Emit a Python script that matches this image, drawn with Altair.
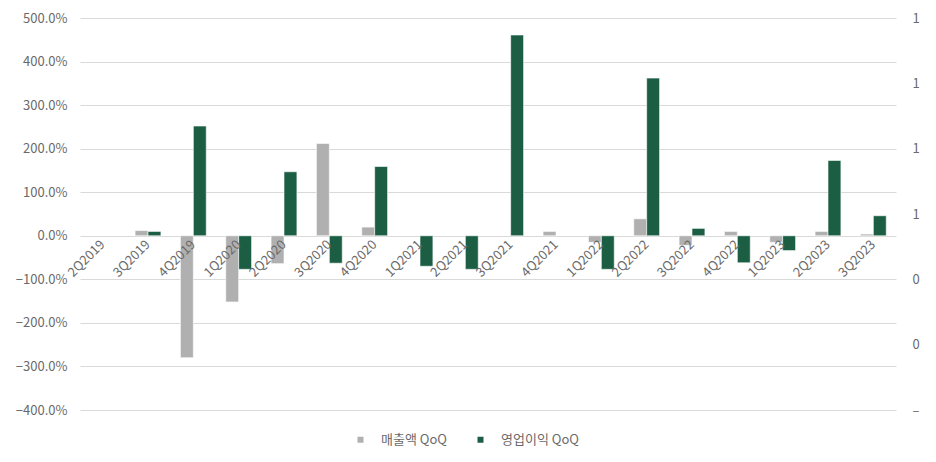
import altair as alt
import pandas as pd

quarters = ["2Q2019", "3Q2019", "4Q2019", "1Q2020", "2Q2020", "3Q2020", "4Q2020",
            "1Q2021", "2Q2021", "3Q2021", "4Q2021", "1Q2022", "2Q2022", "3Q2022",
            "4Q2022", "1Q2023", "2Q2023", "3Q2023"]
# values in percent (QoQ)
sales_qoq = [None, 12, -280, -152, -64, 212, 20, None, None, None, 10, -15, 39, -22, 10, -15, 10, 4]
op_qoq = [None, 10, 252, -77, 147, -63, 159, -70, -77, 461, None, -77, 362, 17, -62, -34, 173, 46]

series_names = ["매출액 QoQ", "영업이익 QoQ"]
series_colors = ["#B0B0B0", "#1B5E44"]

left_ticks = [-4, -3, -2, -1, 0, 1, 2, 3, 4, 5]
right_ticks = [0, 1, 2, 3, 4, 5, 6]
right_labels = ["–", "0", "0", "1", "1", "1", "1"]

rows = []
for q, s, o in zip(quarters, sales_qoq, op_qoq):
    if s is not None:
        rows.append({"q": q, "series": series_names[0], "v": s / 100})
    if o is not None:
        rows.append({"q": q, "series": series_names[1], "v": o / 100})
df = pd.DataFrame(rows)

right_df = pd.DataFrame({"r": right_ticks})

FONT = "Noto Sans CJK KR"
TXT = "#6A6A6A"

bars = alt.Chart(df).mark_bar(stroke="white", strokeWidth=0.6).encode(
    x=alt.X("q:N", sort=quarters,
            scale=alt.Scale(domain=quarters, paddingInner=0.43, paddingOuter=0.215),
            axis=alt.Axis(title=None, labelAngle=-45, labelAlign="right", labelBaseline="middle",
                          domain=False, ticks=False, offset=-174, labelPadding=6, grid=False,
                          labelFontSize=13, labelColor=TXT, labelFont=FONT, zindex=1)),
    xOffset=alt.XOffset("series:N", scale=alt.Scale(domain=series_names, paddingInner=0, paddingOuter=0)),
    y=alt.Y("v:Q", scale=alt.Scale(domain=[-4, 5], nice=False, zero=False),
            axis=alt.Axis(title=None, values=left_ticks, format=".1%", grid=True, gridColor="#D9D9D9",
                          gridWidth=1, domain=False, ticks=False, labelPadding=13,
                          labelFontSize=13, labelColor=TXT, labelFont=FONT)),
    color=alt.Color("series:N", scale=alt.Scale(domain=series_names, range=series_colors),
                    legend=alt.Legend(title=None, orient="none", legendX=274, legendY=415,
                                      direction="horizontal", symbolType="square", symbolSize=36,
                                      symbolStrokeWidth=0, labelFontSize=13, labelColor=TXT,
                                      labelFont=FONT, labelOffset=14, columnPadding=27, padding=0)),
)

label_expr = "[" + ",".join("'" + l + "'" for l in right_labels) + "][datum.value]"

right_axis = alt.Chart(right_df).mark_point(opacity=0).encode(
    x=alt.value(0),
    y=alt.Y("r:Q", scale=alt.Scale(domain=[0, 6], nice=False),
            axis=alt.Axis(title=None, orient="right", values=right_ticks, labelExpr=label_expr,
                          grid=False, domain=False, ticks=False, labelPadding=16,
                          labelFontSize=13, labelColor=TXT, labelFont=FONT)),
)

chart = alt.layer(bars, right_axis).resolve_scale(y="independent").resolve_axis(y="independent").properties(
    width=816, height=392,
    padding={"left": 72, "top": 10, "right": 32, "bottom": 44},
    autosize=alt.AutoSizeParams(type="none"),
).configure(background="white").configure_view(stroke=None, strokeWidth=0)

chart.save("out.html", embed_options={"renderer": "svg", "actions": False})
